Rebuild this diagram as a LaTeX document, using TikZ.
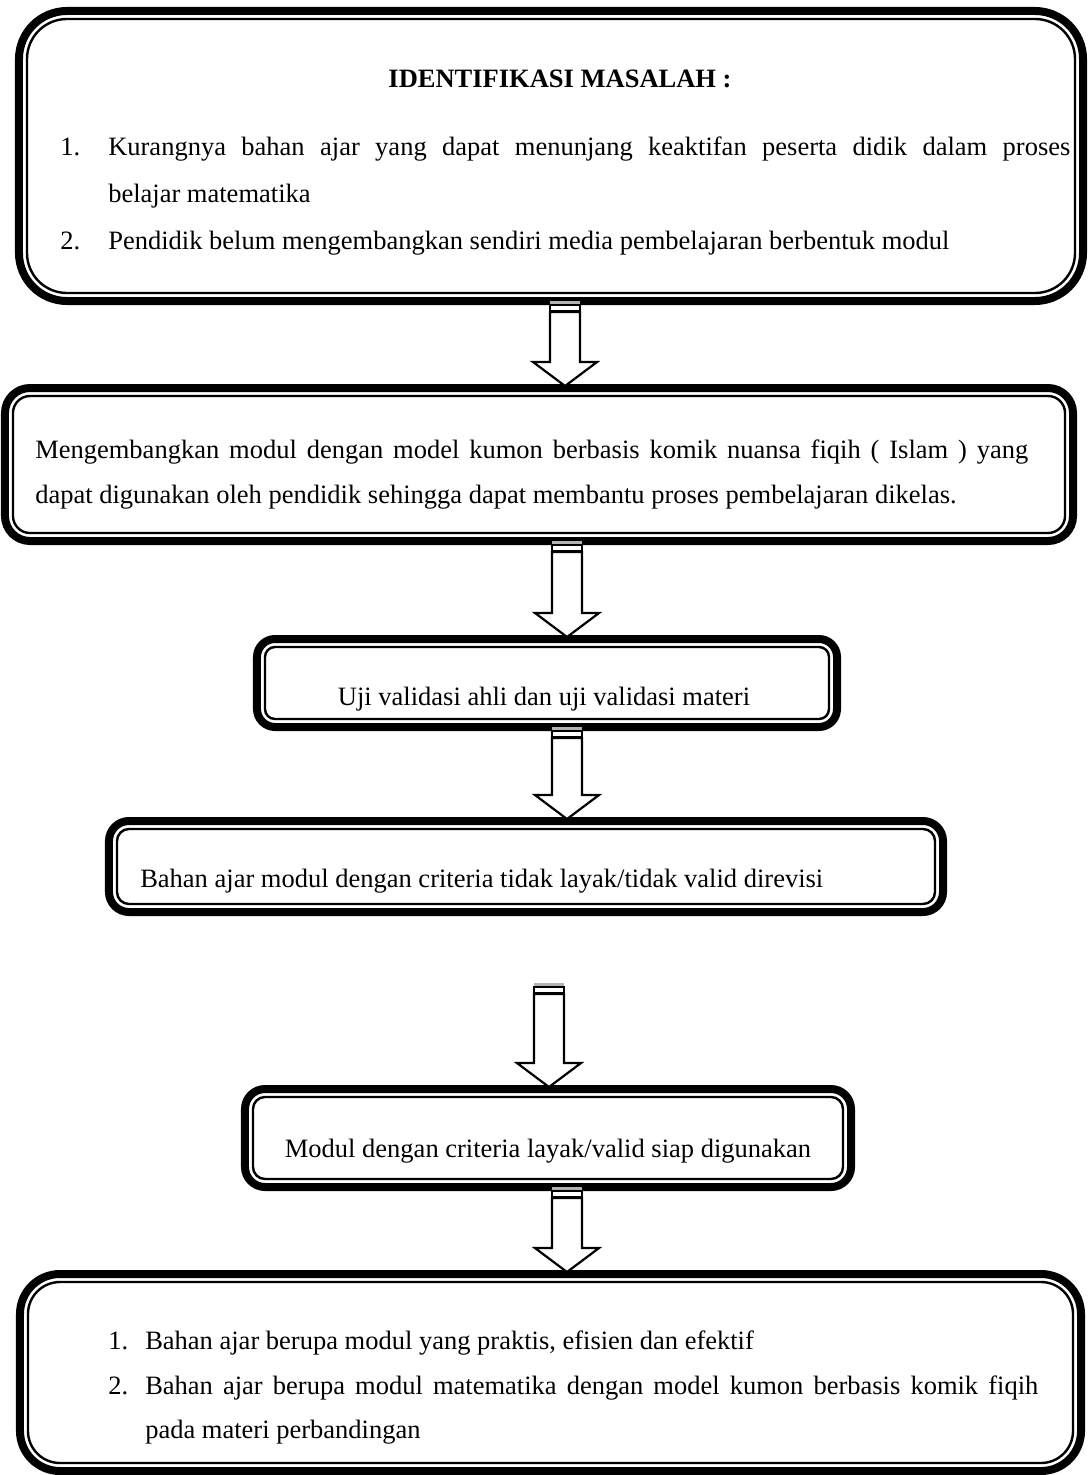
\documentclass[tikz,border=0pt]{standalone}
\usepackage{fontspec}
\setmainfont{Liberation Serif}
\usetikzlibrary{calc}

\begin{document}
\begin{tikzpicture}[x=0.25mm, y=-0.25mm]
\useasboundingbox (0,0) rectangle (1089,1475);

\tikzstyle{flowbox}=[draw=black, line width=2mm, inner sep=0pt, outer sep=0pt]
\tikzstyle{flowline}=[draw=black, line width=0.6mm]
\tikzstyle{flowtext}=[inner sep=0pt, align=justify, font=\fontsize{18.85}{31.5}\selectfont]
\tikzstyle{flowarrow}=[draw=black, line width=0.55mm, fill=white, line join=miter]

% boxes
\node[flowbox, rounded corners=12mm, minimum width=266mm, minimum height=72.5mm] (b1) at (551,156) {};
\node[flowbox, rounded corners=6.25mm, minimum width=267mm, minimum height=38.25mm] (b2) at (539,464.5) {};
\node[flowbox, rounded corners=4.5mm, minimum width=145mm, minimum height=22mm] (b3) at (547,683) {};
\node[flowbox, rounded corners=5mm, minimum width=208.5mm, minimum height=22.75mm] (b4) at (526,866.5) {};
\node[flowbox, rounded corners=5mm, minimum width=151.5mm, minimum height=24.5mm] (b5) at (548,1138) {};
\node[flowbox, rounded corners=10mm, minimum width=265.25mm, minimum height=49.25mm] (b6) at (550.5,1372.5) {};

% inner lines
\foreach \b/\r in {b1/10, b2/4.25, b3/2.5, b4/3, b5/3, b6/8}
  \draw[flowline, rounded corners=\r mm] ([xshift=2mm,yshift=-2mm]\b.north west) rectangle ([xshift=-2mm,yshift=2mm]\b.south east);

% texts
\node[flowtext, anchor=base] (title) at (560,88) {\bfseries IDENTIFIKASI MASALAH :};
\node[flowtext, anchor=north west, text width=252.5mm, font=\fontsize{18.85}{33.3}\selectfont] (list1) at (60,137) {%
\hangindent=12mm\hangafter=1\noindent\makebox[12mm][l]{1.}Kurangnya bahan ajar yang dapat menunjang keaktifan peserta didik dalam proses\linebreak belajar matematika\par
\hangindent=12mm\hangafter=1\noindent\makebox[12mm][l]{2.}Pendidik belum mengembangkan sendiri media pembelajaran berbentuk modul\par};
\node[flowtext, anchor=north west, text width=248.25mm] (goal) at (35,440) {%
\noindent Mengembangkan modul dengan model kumon berbasis komik nuansa fiqih ( Islam ) yang\linebreak dapat digunakan oleh pendidik sehingga dapat membantu proses pembelajaran dikelas.\par};
\node[flowtext, anchor=base] (valid) at (544,705) {Uji validasi ahli dan uji validasi materi};
\node[flowtext, anchor=base west] (revisi) at (140,887) {Bahan ajar modul dengan criteria tidak layak/tidak valid direvisi};
\node[flowtext, anchor=base] (siap) at (548,1157) {Modul dengan criteria layak/valid siap digunakan};
\node[flowtext, anchor=north west, text width=232.5mm] (list2) at (108,1331) {%
\hangindent=9.25mm\hangafter=1\noindent\makebox[9.25mm][l]{1.}Bahan ajar berupa modul yang praktis, efisien dan efektif\par
\hangindent=9.25mm\hangafter=1\noindent\makebox[9.25mm][l]{2.}Bahan ajar berupa modul matematika dengan model kumon berbasis komik fiqih\linebreak pada materi perbandingan\par};

% arrows
\coordinate (x1) at (565,0);
\coordinate (x2) at (567,0);
\coordinate (x4) at (549,0);
\coordinate (a1t) at (x1 |- b1.south);
\coordinate (a1h) at ([yshift=0.5mm]x1 |- b2.north);
\coordinate (a2t) at (x2 |- b2.south);
\coordinate (a2h) at ([yshift=0.5mm]x2 |- b3.north);
\coordinate (a3t) at (x2 |- b3.south);
\coordinate (a3h) at ([yshift=0.5mm]x2 |- b4.north);
\coordinate (a4t) at (549,983);
\coordinate (a4h) at ([yshift=0.5mm]x4 |- b5.north);
\coordinate (a5t) at (x2 |- b5.south);
\coordinate (a5h) at ([yshift=0.5mm]x2 |- b6.north);
\foreach \t/\h in {a1t/a1h, a2t/a2h, a3t/a3h, a4t/a4h, a5t/a5h} {
  \fill[gray!60] ($(\t)+(-15,0)$) rectangle ($(\t)+(15,3)$);
  \draw[flowarrow] ($(\t)+(-15,4)$) rectangle ($(\t)+(15,10)$);
  \draw[flowarrow] ($(\t)+(-15,11)$) -- ($(\h)+(-15,-24)$) -- ($(\h)+(-32,-24)$) -- (\h)
    -- ($(\h)+(32,-24)$) -- ($(\h)+(15,-24)$) -- ($(\t)+(15,11)$) -- cycle;
}
\end{tikzpicture}
\end{document}
